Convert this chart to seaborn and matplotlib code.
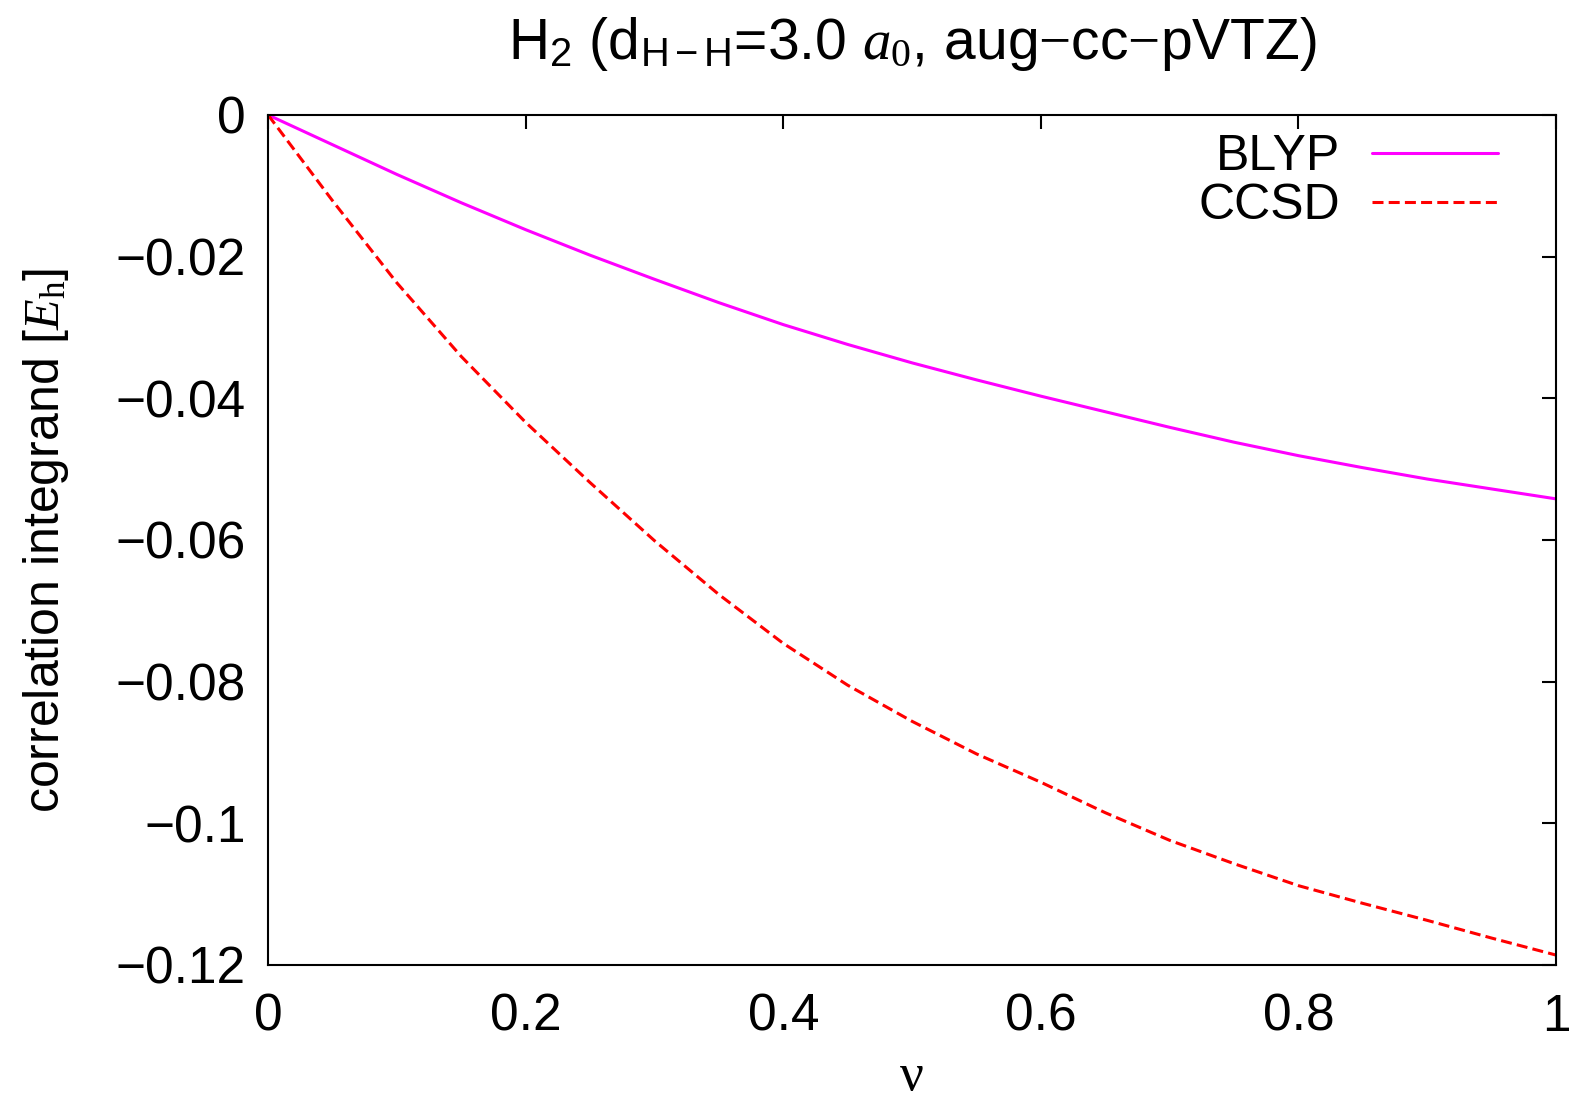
import numpy as np
import pandas as pd
import matplotlib
matplotlib.use("Agg")
import matplotlib.pyplot as plt
import seaborn as sns
from matplotlib.ticker import FuncFormatter

# datos
nu = [0.0, 0.05, 0.1, 0.15, 0.2, 0.25, 0.3, 0.35, 0.4, 0.45, 0.5,
      0.55, 0.6, 0.65, 0.7, 0.75, 0.8, 0.85, 0.9, 0.95, 1.0]
blyp = [0.0, -0.0042, -0.0084, -0.0124, -0.0162, -0.0198, -0.0232, -0.0265,
        -0.0296, -0.0324, -0.0350, -0.0374, -0.0397, -0.0419, -0.0441,
        -0.0462, -0.0481, -0.0498, -0.0514, -0.0528, -0.0542]
ccsd = [0.0, -0.0121, -0.0237, -0.0341, -0.0434, -0.0519, -0.0601, -0.0677,
        -0.0746, -0.0805, -0.0856, -0.0902, -0.0942, -0.0985, -0.1024,
        -0.1057, -0.1088, -0.1113, -0.1137, -0.1162, -0.1186]

sns.set_style("white")
plt.rcParams['font.family'] = ['Liberation Sans', 'DejaVu Sans']
plt.rcParams['mathtext.fontset'] = 'custom'
plt.rcParams['mathtext.rm'] = 'Liberation Serif'
plt.rcParams['mathtext.it'] = 'Liberation Serif:italic'
plt.rcParams['mathtext.sf'] = 'Liberation Sans'
plt.rcParams['text.color'] = 'black'
plt.rcParams['axes.labelcolor'] = 'black'
plt.rcParams['xtick.color'] = 'black'
plt.rcParams['ytick.color'] = 'black'

df = pd.DataFrame({'nu': nu, 'BLYP': blyp, 'CCSD': ccsd})

fig = plt.figure(figsize=(15.74, 11.05), dpi=100)
ax = fig.add_axes([0.1703, 0.1267, 0.8183, 0.7693])

sns.lineplot(data=df, x='nu', y='BLYP', color='#ff00ff', linewidth=2.2,
             label='BLYP', ax=ax)
sns.lineplot(data=df, x='nu', y='CCSD', color='#ff0000', linewidth=2.2,
             label='CCSD', ax=ax)
ax.lines[1].set_dashes((3.6, 1.7))

ax.set_xlim(0, 1)
ax.set_ylim(-0.12, 0)
ax.set_xticks(np.arange(0, 1.01, 0.2))
ax.set_yticks(np.arange(-0.12, 0.001, 0.02))
fmt = FuncFormatter(lambda v, p: f"{v:g}".replace('-', '\u2212') if abs(v) > 1e-9 else "0")
ax.xaxis.set_major_formatter(fmt)
ax.yaxis.set_major_formatter(fmt)

ax.tick_params(direction='in', length=10, width=1.5, labelsize=37,
               top=True, right=True)
ax.tick_params(axis='x', pad=20)
ax.tick_params(axis='y', pad=16)
for s in ax.spines.values():
    s.set_linewidth(1.5)
    s.set_color('black')

ax.set_xlabel('ν', fontsize=38, family='Liberation Serif', labelpad=8)
ax.set_ylabel(r'correlation integrand [$E_{\mathrm{h}}$]', fontsize=36, labelpad=32)
ax.set_title(r'H$_{\mathsf{2}}$ (d$_{\mathsf{H-H}}$=3.0 $a_{\mathit{0}}$, aug$-$cc$-$pVTZ)',
             fontsize=41, pad=40)

leg = ax.legend(loc='upper right', bbox_to_anchor=(0.955, 0.977), frameon=False,
                fontsize=36, markerfirst=False, handlelength=2.52,
                handletextpad=0.64, labelspacing=0.06, borderpad=0,
                borderaxespad=0)

plt.savefig('out.png', dpi=100)
plt.close()
